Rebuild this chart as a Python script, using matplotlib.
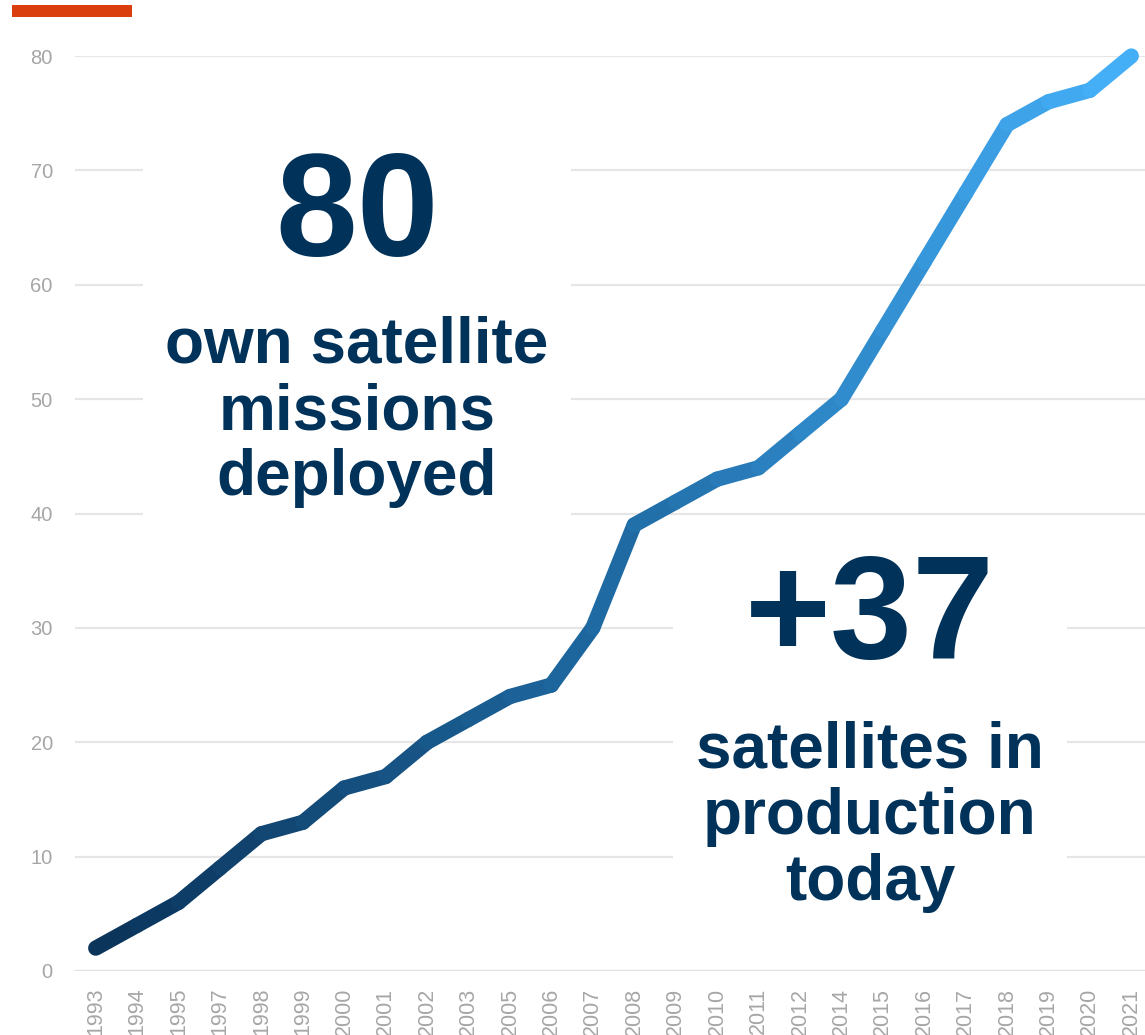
import matplotlib
matplotlib.use("Agg")
import matplotlib.pyplot as plt
import numpy as np
from matplotlib.collections import LineCollection
from matplotlib.colors import LinearSegmentedColormap
from matplotlib.patches import Rectangle

years = ["1993", "1994", "1995", "1997", "1998", "1999", "2000", "2001", "2002",
         "2003", "2005", "2006", "2007", "2008", "2009", "2010", "2011", "2012",
         "2014", "2015", "2016", "2017", "2018", "2019", "2020", "2021"]
missions = [2, 4, 6, 9, 12, 13, 16, 17, 20, 22, 24, 25, 30, 39, 41, 43, 44, 47,
            50, 56, 62, 68, 74, 76, 77, 80]
yticks = [0, 10, 20, 30, 40, 50, 60, 70, 80]

W, H = 1145, 1035
fig = plt.figure(figsize=(W / 100, H / 100), dpi=100)
plt.rcParams['font.family'] = ['Liberation Sans', 'DejaVu Sans']

def fx(px):
    return px / W

def fy(py):
    return 1 - py / H

ax = fig.add_axes([fx(75), fy(971), fx(1152) - fx(75), fy(56) - fy(971)])
ax.set_xlim(-0.5, len(years) - 0.5)
ax.set_ylim(0, 80)
for s in ax.spines.values():
    s.set_visible(False)
ax.set_axisbelow(True)
ax.set_yticks(yticks)
ax.grid(axis='y', color='#e6e6e6', linewidth=1.6)
ax.axhline(0, color='#e0e0e0', linewidth=1.6, zorder=0.6)
ax.set_xticks(range(len(years)))
ax.set_xticklabels(years, rotation=90, fontsize=15.5, color='#a6a6a6')
ax.tick_params(axis='x', length=0, pad=12)
ax.tick_params(axis='y', length=0, pad=16, labelsize=14.5, labelcolor='#a6a6a6')

# white boxes behind the annotations (hide gridlines)
ax.add_patch(Rectangle((fx(143), fy(520)), fx(571) - fx(143), fy(130) - fy(520),
                       transform=fig.transFigure, facecolor='white', edgecolor='none', zorder=1))
ax.add_patch(Rectangle((fx(673), fy(915)), fx(1067) - fx(673), fy(540) - fy(915),
                       transform=fig.transFigure, facecolor='white', edgecolor='none', zorder=1))

# gradient line
x = np.arange(len(years))
y = np.array(missions, dtype=float)
pts = np.column_stack([x, y]).reshape(-1, 1, 2)
segs = np.concatenate([pts[:-1], pts[1:]], axis=1)
cmap = LinearSegmentedColormap.from_list('g', ['#0a3358', '#1f6aa3', '#45b1fa'])
cvals = (x[:-1] + 0.5) / (len(x) - 1)
lc = LineCollection(segs, colors=cmap(cvals), linewidths=11, capstyle='round',
                    joinstyle='round', zorder=3, clip_on=False)
ax.add_collection(lc)

navy = '#00325a'
fig.text(fx(357), fy(218), "80", ha='center', va='center', fontsize=106,
         fontweight='bold', color=navy)
fig.text(fx(357), fy(412), "own satellite\nmissions\ndeployed", ha='center', va='center',
         fontsize=46, fontweight='bold', color=navy, linespacing=1.13)
fig.text(fx(870), fy(620), "+37", ha='center', va='center', fontsize=106,
         fontweight='bold', color=navy)
fig.text(fx(870), fy(817), "satellites in\nproduction\ntoday", ha='center', va='center',
         fontsize=46, fontweight='bold', color=navy, linespacing=1.13)

# red accent bar
fig.patches.append(Rectangle((fx(12), fy(17)), fx(132) - fx(12), fy(5) - fy(17),
                             transform=fig.transFigure, facecolor='#db3e0e',
                             edgecolor='none', figure=fig))

fig.savefig("out.png", dpi=100)
